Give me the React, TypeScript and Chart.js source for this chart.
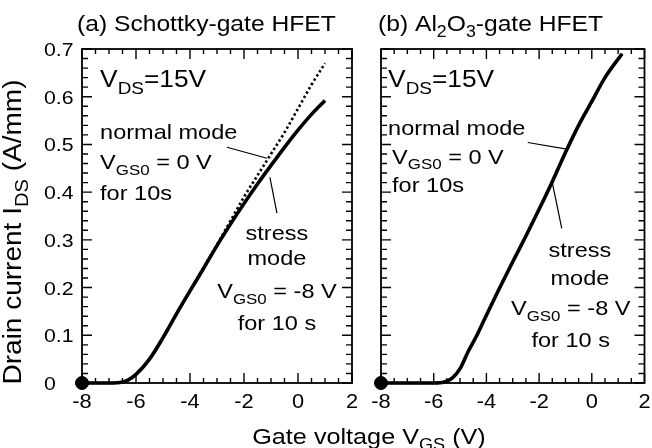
import React, { useEffect, useRef } from "react";
import { Chart, registerables } from "chart.js";

Chart.register(...registerables);

const FONT = '"Liberation Sans", Arial, Helvetica, sans-serif';
const STRETCH = 1.12;

// ---- Panel (a): Schottky-gate HFET ----
const aVgs = [-8, -7, -6.6, -6.3, -6.0, -5.5, -5.0, -4.5, -4.0, -3.5, -3.0, -2.5, -2.0, -1.5, -1.0, -0.5, 0, 0.5, 1.0];
const aStress = [0, 0, 0.001, 0.006, 0.018, 0.05, 0.095, 0.145, 0.193, 0.24, 0.288, 0.333, 0.376, 0.417, 0.456, 0.494, 0.53, 0.563, 0.592];
const aNormal = [0, 0, 0.001, 0.006, 0.018, 0.05, 0.095, 0.145, 0.193, 0.242, 0.29, 0.34, 0.39, 0.435, 0.48, 0.525, 0.575, 0.625, 0.67];

// ---- Panel (b): Al2O3-gate HFET ----
const bVgs = [-8, -6, -5.6, -5.3, -5.0, -4.7, -4.36, -4.0, -3.5, -3.0, -2.5, -2.0, -1.5, -1.0, -0.5, 0, 0.5, 1.15];
const bStress = [0, 0, 0.002, 0.01, 0.03, 0.065, 0.1, 0.142, 0.199, 0.254, 0.308, 0.364, 0.422, 0.483, 0.54, 0.59, 0.64, 0.69];
const bNormal = [0, 0, 0.002, 0.01, 0.03, 0.065, 0.1, 0.142, 0.199, 0.254, 0.308, 0.364, 0.422, 0.483, 0.54, 0.59, 0.64, 0.69];

// start markers (V_GS, I_DS)
const markerX = [-8];
const markerY = [0];

// axes
const X_MIN = -8, X_MAX = 2, X_MAJOR = 2, X_MINOR = 0.5;
const Y_MIN = 0, Y_MAX = 0.7, Y_MAJOR = 0.1, Y_MINOR = 0.02;
const xTickValues = [-8, -6, -4, -2, 0, 2];
const xTickLabels = ["-8", "-6", "-4", "-2", "0", "2"];
const yTickValues = [0, 0.1, 0.2, 0.3, 0.4, 0.5, 0.6, 0.7];
const yTickLabels = ["0", "0.1", "0.2", "0.3", "0.4", "0.5", "0.6", "0.7"];

type Part = { t: string; sub?: boolean };
type Note = { x: number; y: number; parts: Part[]; size: number; align: "left" | "center" | "right" };
type Leader = { x1: number; y1: number; x2: number; y2: number };

const VDS: Part[] = [{ t: "V" }, { t: "DS", sub: true }, { t: "=15V" }];
const NS = 21; // note font size
const VS = 23.5; // V_DS font size

const aNotes: Note[] = [
  { x: -7.33, y: 0.62, parts: VDS, size: VS, align: "left" },
  { x: -7.33, y: 0.511, parts: [{ t: "normal mode" }], size: NS, align: "left" },
  { x: -7.33, y: 0.448, parts: [{ t: "V" }, { t: "GS0", sub: true }, { t: " = 0 V" }], size: NS, align: "left" },
  { x: -7.33, y: 0.383, parts: [{ t: "for 10s" }], size: NS, align: "left" },
  { x: -0.78, y: 0.299, parts: [{ t: "stress" }], size: NS, align: "center" },
  { x: -0.78, y: 0.247, parts: [{ t: "mode" }], size: NS, align: "center" },
  { x: -0.78, y: 0.178, parts: [{ t: "V" }, { t: "GS0", sub: true }, { t: " = -8 V" }], size: NS, align: "center" },
  { x: -0.78, y: 0.111, parts: [{ t: "for 10 s" }], size: NS, align: "center" },
];
const aLeaders: Leader[] = [
  { x1: -2.63, y1: 0.494, x2: -1.15, y2: 0.471 },
  { x1: -1.04, y1: 0.431, x2: -0.78, y2: 0.356 },
];

const bNotes: Note[] = [
  { x: -7.73, y: 0.62, parts: VDS, size: VS, align: "left" },
  { x: -7.73, y: 0.519, parts: [{ t: "normal mode" }], size: NS, align: "left" },
  { x: -7.58, y: 0.46, parts: [{ t: "V" }, { t: "GS0", sub: true }, { t: " = 0 V" }], size: NS, align: "left" },
  { x: -7.58, y: 0.4, parts: [{ t: "for 10s" }], size: NS, align: "left" },
  { x: -0.45, y: 0.264, parts: [{ t: "stress" }], size: NS, align: "center" },
  { x: -0.45, y: 0.205, parts: [{ t: "mode" }], size: NS, align: "center" },
  { x: -0.8, y: 0.142, parts: [{ t: "V" }, { t: "GS0", sub: true }, { t: " = -8 V" }], size: NS, align: "center" },
  { x: -0.8, y: 0.075, parts: [{ t: "for 10 s" }], size: NS, align: "center" },
];
const bLeaders: Leader[] = [
  { x1: -2.43, y1: 0.504, x2: -0.95, y2: 0.49 },
  { x1: -1.5, y1: 0.42, x2: -1.14, y2: 0.324 },
];

function drawRich(
  ctx: CanvasRenderingContext2D,
  parts: Part[],
  x: number,
  y: number,
  size: number,
  align: "left" | "center" | "right",
  rotate = 0
) {
  ctx.save();
  ctx.translate(x, y);
  if (rotate) ctx.rotate(rotate);
  ctx.scale(STRETCH, 1);
  ctx.textAlign = "left";
  ctx.textBaseline = "alphabetic";
  let w = 0;
  for (const p of parts) {
    ctx.font = `${p.sub ? size * 0.72 : size}px ${FONT}`;
    w += ctx.measureText(p.t).width;
  }
  let cx = align === "center" ? -w / 2 : align === "right" ? -w : 0;
  for (const p of parts) {
    ctx.font = `${p.sub ? size * 0.72 : size}px ${FONT}`;
    ctx.fillText(p.t, cx, p.sub ? size * 0.27 : 0);
    cx += ctx.measureText(p.t).width;
  }
  ctx.restore();
}

type PanelCfg = {
  title: Part[];
  titleDx: number;
  yLabels: boolean;
  axisTitles: boolean;
  notes: Note[];
  leaders: Leader[];
};

function makePlugin(cfg: PanelCfg) {
  return {
    id: "decor",
    afterDatasetsDraw(chart: any) {
      const ctx: CanvasRenderingContext2D = chart.ctx;
      const { left, right, top, bottom } = chart.chartArea;
      const xs = chart.scales.x;
      const ys = chart.scales.y;
      ctx.save();
      ctx.strokeStyle = "#000";
      ctx.fillStyle = "#000";
      ctx.lineCap = "butt";
      // frame
      ctx.lineWidth = 1.8;
      ctx.strokeRect(left, top, right - left, bottom - top);
      // ticks
      ctx.lineWidth = 1.4;
      ctx.beginPath();
      const nx = Math.round((X_MAX - X_MIN) / X_MINOR);
      for (let i = 0; i <= nx; i++) {
        const v = X_MIN + i * X_MINOR;
        const px = xs.getPixelForValue(v);
        const major = Math.abs(v / X_MAJOR - Math.round(v / X_MAJOR)) < 1e-6;
        const L = major ? 10 : 5;
        ctx.moveTo(px, bottom);
        ctx.lineTo(px, bottom - L);
        ctx.moveTo(px, top);
        ctx.lineTo(px, top + L);
      }
      const ny = Math.round((Y_MAX - Y_MIN) / Y_MINOR);
      for (let i = 0; i <= ny; i++) {
        const v = Y_MIN + i * Y_MINOR;
        const py = ys.getPixelForValue(v);
        const major = Math.abs(v / Y_MAJOR - Math.round(v / Y_MAJOR)) < 1e-6;
        const L = major ? 10 : 6;
        ctx.moveTo(left, py);
        ctx.lineTo(left + L, py);
        ctx.moveTo(right, py);
        ctx.lineTo(right - L, py);
      }
      ctx.stroke();
      // tick labels
      xTickValues.forEach((v, i) => {
        drawRich(ctx, [{ t: xTickLabels[i] }], xs.getPixelForValue(v), bottom + 25, 19.5, "center");
      });
      if (cfg.yLabels) {
        yTickValues.forEach((v, i) => {
          drawRich(ctx, [{ t: yTickLabels[i] }], left - 38, ys.getPixelForValue(v) + 7, 19, "left");
        });
      }
      // title
      drawRich(ctx, cfg.title, left + cfg.titleDx, 31, 22, "left");
      // notes
      for (const n of cfg.notes) {
        drawRich(ctx, n.parts, xs.getPixelForValue(n.x), ys.getPixelForValue(n.y), n.size, n.align);
      }
      // leaders
      ctx.lineWidth = 1.2;
      ctx.beginPath();
      for (const l of cfg.leaders) {
        ctx.moveTo(xs.getPixelForValue(l.x1), ys.getPixelForValue(l.y1));
        ctx.lineTo(xs.getPixelForValue(l.x2), ys.getPixelForValue(l.y2));
      }
      ctx.stroke();
      // axis titles
      if (cfg.axisTitles) {
        drawRich(
          ctx,
          [{ t: "Drain current I" }, { t: "DS", sub: true }, { t: " (A/mm)" }],
          21,
          232,
          25,
          "center",
          -Math.PI / 2
        );
        drawRich(ctx, [{ t: "Gate voltage V" }, { t: "GS", sub: true }, { t: " (V)" }], 369, 444, 22.5, "center");
      }
      ctx.restore();
    },
  };
}

function toXY(xs: number[], ys: number[]) {
  return xs.map((x, i) => ({ x, y: ys[i] }));
}

function buildConfig(
  xv: number[],
  normal: number[],
  stress: number[],
  padding: { left: number; right: number; top: number; bottom: number },
  cfg: PanelCfg
): any {
  return {
    type: "line",
    data: {
      datasets: [
        {
          label: "normal mode",
          data: toXY(xv, normal),
          borderColor: "#000",
          borderWidth: 2.6,
          borderDash: [2.4, 2.6],
          pointRadius: 0,
          cubicInterpolationMode: "monotone",
          fill: false,
          clip: false,
        },
        {
          label: "stress mode",
          data: toXY(xv, stress),
          borderColor: "#000",
          borderWidth: 3.6,
          pointRadius: 0,
          cubicInterpolationMode: "monotone",
          fill: false,
          clip: false,
        },
        {
          label: "start",
          data: toXY(markerX, markerY),
          showLine: false,
          pointRadius: 6.5,
          pointBackgroundColor: "#000",
          pointBorderColor: "#000",
          clip: false,
        },
      ],
    },
    options: {
      animation: false,
      responsive: false,
      maintainAspectRatio: false,
      layout: { padding },
      plugins: { legend: { display: false }, tooltip: { enabled: false } },
      events: [],
      scales: {
        x: { type: "linear", min: X_MIN, max: X_MAX, display: false },
        y: { type: "linear", min: Y_MIN, max: Y_MAX, display: false },
      },
    },
    plugins: [makePlugin(cfg)],
  };
}

export default function App() {
  const refA = useRef<HTMLCanvasElement>(null);
  const refB = useRef<HTMLCanvasElement>(null);

  useEffect(() => {
    const chartA = new Chart(
      refA.current!,
      buildConfig(aVgs, aNormal, aStress, { left: 82, right: 300, top: 49, bottom: 65 }, {
        title: [{ t: "(a) Schottky-gate HFET" }],
        titleDx: -5,
        yLabels: true,
        axisTitles: true,
        notes: aNotes,
        leaders: aLeaders,
      })
    );
    const chartB = new Chart(
      refB.current!,
      buildConfig(bVgs, bNormal, bStress, { left: 21, right: 7, top: 49, bottom: 65 }, {
        title: [{ t: "(b) Al" }, { t: "2", sub: true }, { t: "O" }, { t: "3", sub: true }, { t: "-gate HFET" }],
        titleDx: -3,
        yLabels: false,
        axisTitles: false,
        notes: bNotes,
        leaders: bLeaders,
      })
    );
    return () => {
      chartA.destroy();
      chartB.destroy();
    };
  }, []);

  return (
    <div style={{ position: "fixed", left: 0, top: 0, width: 652, height: 448, background: "#fff" }}>
      <canvas
        ref={refA}
        width={652}
        height={448}
        style={{ position: "absolute", left: 0, top: 0, width: 652, height: 448 }}
      />
      <canvas
        ref={refB}
        width={292}
        height={448}
        style={{ position: "absolute", left: 360, top: 0, width: 292, height: 448 }}
      />
    </div>
  );
}
